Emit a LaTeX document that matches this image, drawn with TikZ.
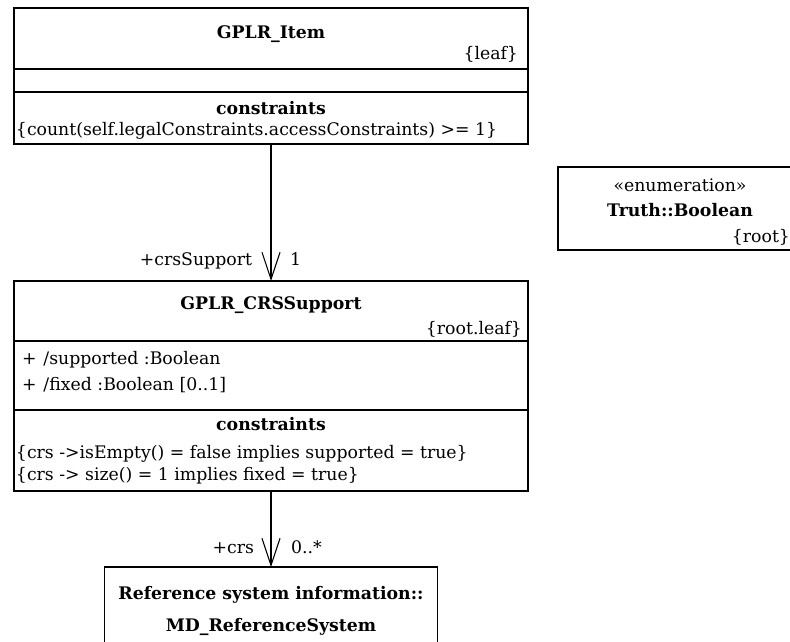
\documentclass[tikz,border=0pt]{standalone}
\usepackage{fontspec}
\setmainfont{DejaVu Serif}
\usetikzlibrary{arrows.meta, positioning, calc}

\begin{document}
\begin{tikzpicture}[x=1pt, y=-1pt, outer sep=0pt, font=\fontsize{17.3}{21}\selectfont]
\tikzstyle{umlpart} = [draw, line width=1.1pt, rectangle, inner sep=0pt, minimum width=514pt]
\tikzstyle{umltxt} = [inner sep=0pt, text height=16pt, text depth=3pt]
\tikzstyle{umlname} = [umltxt, font=\fontsize{17.3}{21}\selectfont\bfseries]
\tikzstyle{assoc} = [line width=1.1pt, -{Straight Barb[length=27pt, width=18pt]}]

\useasboundingbox (0,0) rectangle (790,641);
\clip (0,0) rectangle (790,641);

% GPLR_Item
\node[umlpart, minimum height=61pt, anchor=north] (itemhead) at (271,8) {};
\node[umlpart, minimum height=23pt, below=0pt of itemhead] (itemattr) {};
\node[umlpart, minimum height=52pt, below=0pt of itemattr] (itemcons) {};
\node[umlname] (itemname) at ($(itemhead.north)+(0,24)$) {GPLR\_Item};
\node[umltxt, anchor=east] (itemprop) at ($(itemhead.south east)+(-10,-16)$) {\{leaf\}};
\node[umlname] (itemcontitle) at ($(itemcons.north)+(0,16)$) {constraints};
\node[umltxt, anchor=west] (itemcon1) at ($(itemcons.north west)+(2,37)$) {\{count(self.legalConstraints.accessConstraints) >= 1\}};

% GPLR_CRSSupport
\node[umlpart, minimum height=60pt, anchor=north] (crshead) at (271,281) {};
\node[umlpart, minimum height=69pt, below=0pt of crshead] (crsattr) {};
\node[umlpart, minimum height=81pt, below=0pt of crsattr] (crscons) {};
\node[umlname] (crsname) at ($(crshead.north)+(0,22)$) {GPLR\_CRSSupport};
\node[umltxt, anchor=east] (crsprop) at ($(crshead.south east)+(-6,-13)$) {\{root.leaf\}};
\node[umltxt, anchor=west] (crsattr1) at ($(crsattr.north west)+(8,17)$) {+\hspace{7pt}/supported :Boolean};
\node[umltxt, anchor=west] (crsattr2) at ($(crsattr.north west)+(8,43)$) {+\hspace{7pt}/fixed :Boolean [0..1]};
\node[umlname] (crscontitle) at ($(crscons.north)+(0,14)$) {constraints};
\node[umltxt, anchor=west] (crscon1) at ($(crscons.north west)+(2,42)$) {\{crs ->isEmpty() = false implies supported = true\}};
\node[umltxt, anchor=west] (crscon2) at ($(crscons.north west)+(2,64)$) {\{crs -> size() = 1 implies fixed = true\}};

% Reference system
\node[umlpart, minimum width=333pt, minimum height=90pt, anchor=north] (mdref) at (271,567) {};
\node[umlname] (mdref1) at ($(mdref.north)+(0,26)$) {Reference system information::};
\node[umlname] (mdref2) at ($(mdref.north)+(0,58)$) {MD\_ReferenceSystem};

% Boolean enumeration
\node[umlpart, minimum width=244pt, minimum height=83pt, anchor=north west] (truth) at (558,167) {};
\node[umltxt] (truthtype) at ($(truth.north)+(0,18)$) {«enumeration»};
\node[umlname] (truthname) at ($(truth.north)+(0,43)$) {Truth::Boolean};
\node[umltxt, anchor=east] (truthprop) at ($(truth.south east)+(-12,-14)$) {\{root\}};

% associations
\draw[assoc] (itemcons.south) -- (crshead.north);
\node[umltxt, anchor=east] (suprole) at ($(crshead.north)+(-19,-22)$) {+crsSupport};
\node[umltxt, anchor=west] (supmult) at ($(crshead.north)+(19,-22)$) {1};

\draw[assoc] (crscons.south) -- (mdref.north);
\node[umltxt, anchor=east] (crsrole) at ($(mdref.north)+(-17,-20)$) {+crs};
\node[umltxt, anchor=west] (crsmult) at ($(mdref.north)+(20,-20)$) {0..*};
\end{tikzpicture}
\end{document}
